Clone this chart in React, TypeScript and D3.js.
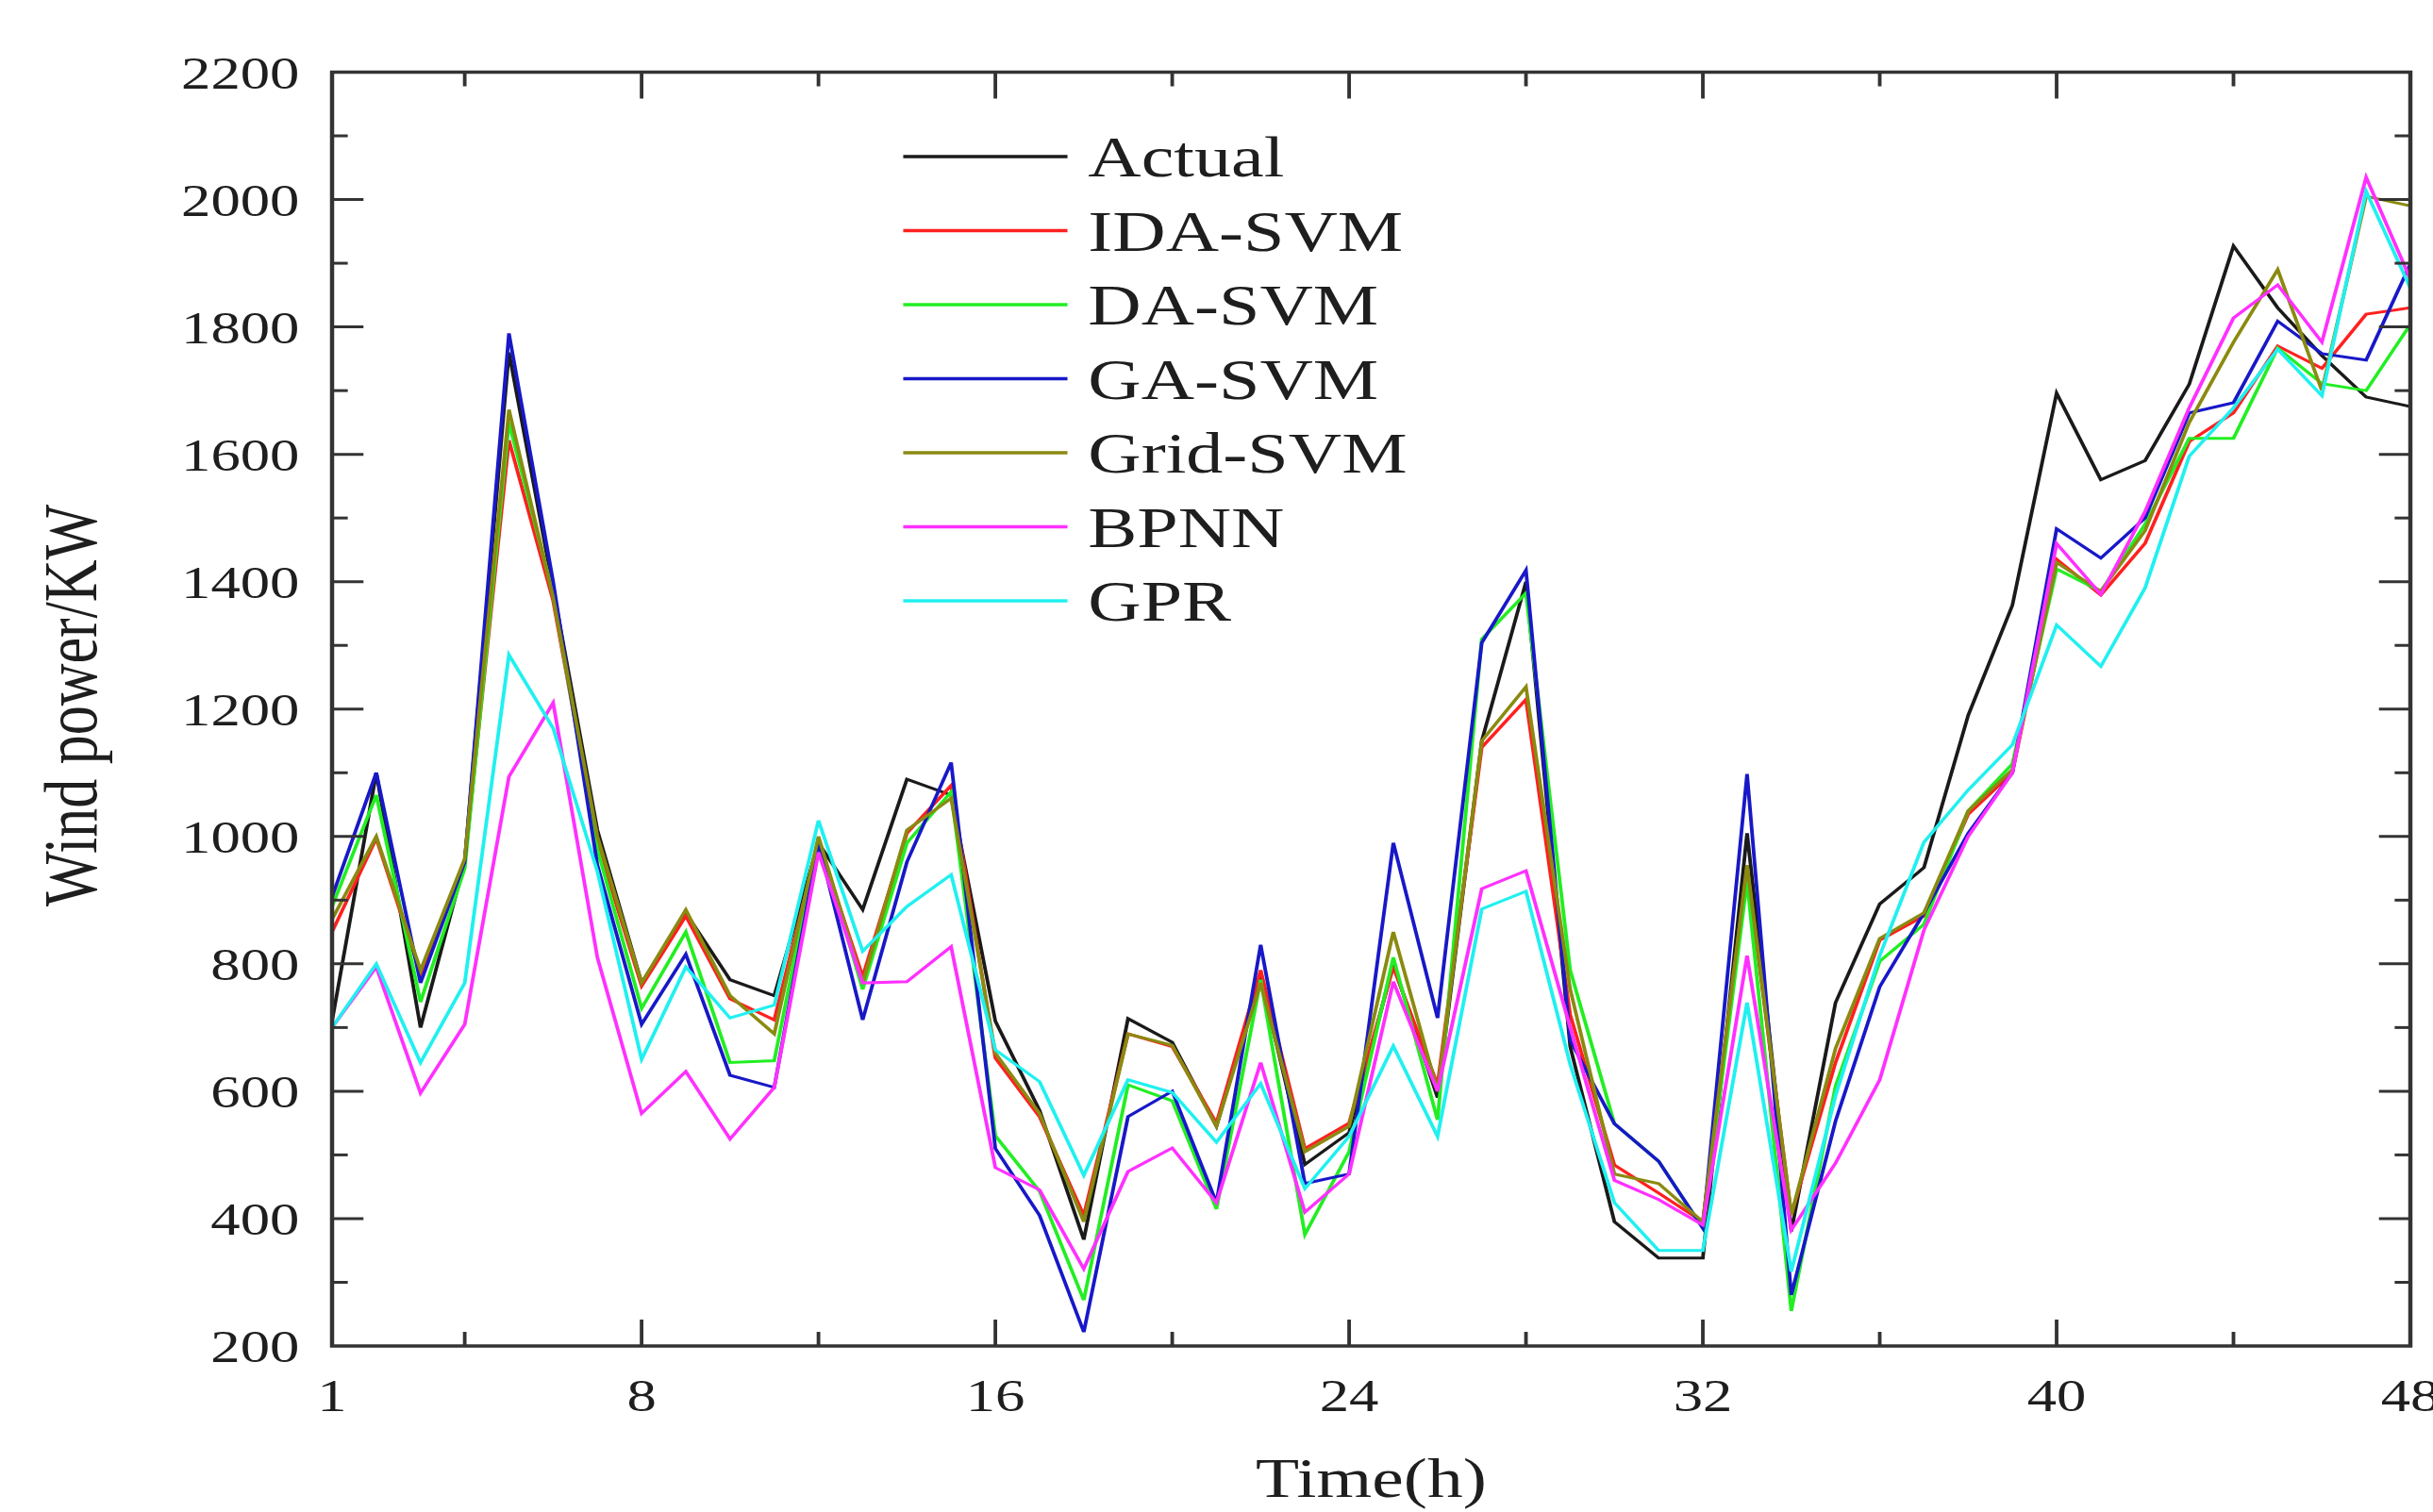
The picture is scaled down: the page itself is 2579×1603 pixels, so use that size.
import * as d3 from 'd3';
import { useEffect, useRef } from 'react';

const hours = d3.range(1, 49);
const seriesNames = ['Actual', 'IDA-SVM', 'DA-SVM', 'GA-SVM', 'Grid-SVM', 'BPNN', 'GPR'];
const seriesColors = ['#1a1a1a', '#ff2020', '#22ee22', '#1818c8', '#8a8a10', '#ff30ff', '#20f0f0'];

const actual = [710, 1100, 700, 960, 1760, 1390, 1010, 770, 880, 775, 750, 990, 885, 1090, 1065, 710, 570, 367, 714, 677, 545, 780, 485, 535, 800, 590, 1150, 1400, 670, 395, 338, 338, 1005, 380, 739, 894, 951, 1190, 1363, 1696, 1560, 1590, 1710, 1927, 1830, 1755, 1690, 1675];
const idaSvm = [850, 997, 785, 960, 1622, 1370, 990, 765, 875, 745, 712, 990, 780, 1005, 1080, 652, 560, 405, 690, 670, 550, 790, 510, 550, 795, 610, 1140, 1215, 720, 484, 440, 395, 950, 406, 645, 837, 875, 1035, 1100, 1435, 1379, 1460, 1620, 1665, 1770, 1735, 1820, 1830];
const daSvm = [890, 1065, 740, 950, 1650, 1380, 980, 730, 850, 645, 648, 995, 760, 990, 1070, 530, 443, 272, 610, 585, 415, 775, 375, 505, 810, 555, 1310, 1382, 790, 549, 490, 385, 930, 255, 608, 804, 862, 1040, 1114, 1420, 1385, 1490, 1625, 1625, 1767, 1711, 1700, 1804];
const gaSvm = [905, 1100, 770, 960, 1790, 1400, 955, 705, 815, 625, 606, 990, 712, 960, 1116, 510, 405, 222, 560, 600, 425, 830, 455, 470, 990, 715, 1304, 1418, 680, 549, 490, 385, 1098, 280, 553, 764, 880, 1005, 1100, 1483, 1437, 1500, 1665, 1681, 1809, 1758, 1748, 1899];
const gridSvm = [870, 1000, 790, 965, 1670, 1375, 1000, 770, 885, 750, 690, 1000, 770, 1010, 1060, 660, 565, 395, 690, 672, 545, 770, 505, 545, 850, 600, 1150, 1235, 760, 470, 455, 395, 955, 406, 667, 840, 880, 1040, 1105, 1430, 1385, 1480, 1650, 1776, 1890, 1700, 2005, 1990];
const bpnn = [700, 795, 597, 705, 1094, 1210, 810, 565, 631, 525, 606, 975, 770, 772, 827, 480, 445, 321, 474, 511, 425, 645, 410, 470, 772, 600, 918, 946, 700, 460, 430, 390, 813, 382, 487, 618, 853, 1000, 1100, 1460, 1380, 1510, 1673, 1814, 1866, 1776, 2035, 1875];
const gpr = [700, 800, 645, 770, 1285, 1170, 945, 650, 795, 715, 735, 1025, 820, 890, 940, 665, 615, 468, 618, 598, 520, 612, 447, 529, 671, 529, 886, 914, 642, 425, 350, 350, 739, 317, 593, 813, 991, 1073, 1144, 1332, 1267, 1390, 1597, 1673, 1765, 1692, 2013, 1861];

const seriesValues = [actual, idaSvm, daSvm, gaSvm, gridSvm, bpnn, gpr];

const xTickLabels = [1, 8, 16, 24, 32, 40, 48];
const xTicks = [4, 8, 12, 16, 20, 24, 28, 32, 36, 40, 44];
const yTickLabels = [200, 400, 600, 800, 1000, 1200, 1400, 1600, 1800, 2000, 2200];

// the source figure is stretched horizontally, so draw in a narrower box and stretch it
const stretch = 1.28;
const W = 2579;
const H = 1603;
const VW = W / stretch;
const font = '"Liberation Serif", "Times New Roman", serif';

export default function App() {
  const ref = useRef<SVGSVGElement | null>(null);

  useEffect(() => {
    const svg = d3.select(ref.current);
    svg.selectAll('*').remove();

    const left = 352 / stretch;
    const right = 2555 / stretch;
    const top = 76.5;
    const bottom = 1427;

    const x = d3.scaleLinear().domain([1, 48]).range([left, right]);
    const y = d3.scaleLinear().domain([200, 2200]).range([bottom, top]);

    const plot = svg.append('g');
    plot
      .append('clipPath')
      .attr('id', 'plot-clip')
      .append('rect')
      .attr('x', left)
      .attr('y', top)
      .attr('width', right - left)
      .attr('height', bottom - top);

    const line = d3
      .line<number>()
      .x((_, i) => x(hours[i]))
      .y((d) => y(d));

    seriesValues.forEach((values, i) => {
      plot
        .append('path')
        .attr('d', line(values))
        .attr('fill', 'none')
        .attr('stroke', seriesColors[i])
        .attr('stroke-width', 3)
        .attr('stroke-linejoin', 'miter')
        .attr('clip-path', 'url(#plot-clip)');
    });

    // frame
    const axisColor = '#333';
    svg
      .append('rect')
      .attr('x', left)
      .attr('y', top)
      .attr('width', right - left)
      .attr('height', bottom - top)
      .attr('fill', 'none')
      .attr('stroke', axisColor)
      .attr('stroke-width', 3.5);

    const ticks = svg.append('g').attr('stroke', axisColor).attr('stroke-width', 3);

    // x ticks, bottom and top, pointing inward
    xTicks.forEach((t) => {
      const len = t % 8 === 0 ? 28 : 15;
      ticks.append('line').attr('x1', x(t)).attr('x2', x(t)).attr('y1', bottom).attr('y2', bottom - len);
      ticks.append('line').attr('x1', x(t)).attr('x2', x(t)).attr('y1', top).attr('y2', top + len);
    });

    // y ticks, left and right
    d3.range(300, 2200, 100).forEach((v) => {
      const len = v % 200 === 0 ? 26 : 13;
      ticks.append('line').attr('x1', left).attr('x2', left + len).attr('y1', y(v)).attr('y2', y(v));
      ticks.append('line').attr('x1', right).attr('x2', right - len).attr('y1', y(v)).attr('y2', y(v));
    });

    const labels = svg.append('g').attr('font-family', font).attr('fill', '#1e1e1e');

    labels
      .selectAll('text.ytick')
      .data(yTickLabels)
      .enter()
      .append('text')
      .attr('x', 248)
      .attr('y', (d) => y(d))
      .attr('dy', '0.35em')
      .attr('text-anchor', 'end')
      .attr('font-size', 49)
      .text((d) => d);

    labels
      .selectAll('text.xtick')
      .data(xTickLabels)
      .enter()
      .append('text')
      .attr('x', (d) => x(d))
      .attr('y', 1496)
      .attr('text-anchor', 'middle')
      .attr('font-size', 49)
      .text((d) => d);

    labels
      .append('text')
      .attr('x', (left + right) / 2)
      .attr('y', 1587)
      .attr('text-anchor', 'middle')
      .attr('font-size', 59)
      .text('Time(h)');

    labels
      .append('text')
      .attr('transform', `translate(80, 748) rotate(-90)`)
      .attr('text-anchor', 'middle')
      .attr('font-size', 62)
      .text('Wind power/KW');

    // legend
    const legend = svg.append('g');
    seriesNames.forEach((name, i) => {
      const ly = 166 + i * 78.5;
      legend
        .append('line')
        .attr('x1', 748)
        .attr('x2', 884)
        .attr('y1', ly)
        .attr('y2', ly)
        .attr('stroke', seriesColors[i])
        .attr('stroke-width', 3.5);
      legend
        .append('text')
        .attr('x', 901)
        .attr('y', ly)
        .attr('dy', '0.35em')
        .attr('font-family', font)
        .attr('font-size', 61)
        .attr('fill', '#1e1e1e')
        .text(name);
    });
  }, []);

  return (
    <>
      <style>{'body{margin:0;background:#fff}'}</style>
      <svg
        ref={ref}
        width={W}
        height={H}
        viewBox={`0 0 ${VW} ${H}`}
        preserveAspectRatio="none"
        style={{ display: 'block' }}
        role="img"
        aria-label="Wind power forecasts"
      />
    </>
  );
}
